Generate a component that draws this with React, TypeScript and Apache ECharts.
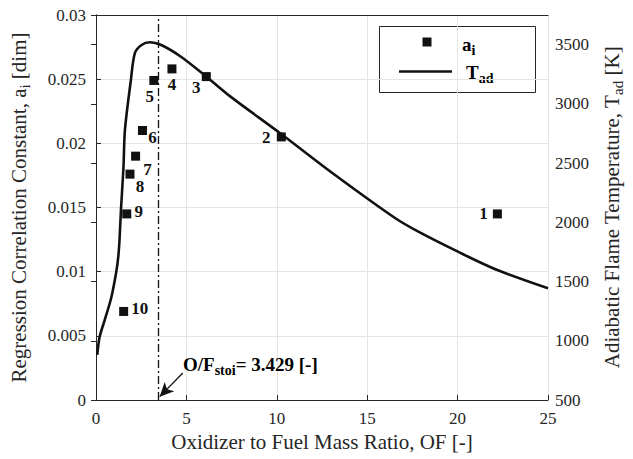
import React, { useEffect, useRef } from 'react';
import * as echarts from 'echarts';

// Regression constant a_i for each case, against O/F ratio
const ofRatio = [22.2, 10.25, 6.1, 4.2, 3.2, 2.57, 2.19, 1.88, 1.7, 1.53];
const regressionA = [0.0145, 0.0205, 0.0252, 0.0258, 0.0249, 0.021, 0.019, 0.0176, 0.0145, 0.0069];
const pointNames = ['1', '2', '3', '4', '5', '6', '7', '8', '9', '10'];

// Adiabatic flame temperature curve
const curveOF = [0.07, 0.2, 0.48, 0.84, 1.11, 1.23, 1.3, 1.38, 1.52, 1.6, 1.93, 2.15, 2.52, 2.97, 3.61, 4.7, 6.11, 7.44, 10.17, 13.09, 16.56, 17.83, 20.02, 22.2, 25];
const curveTad = [880, 1032, 1175, 1361, 1572, 1707, 1851, 2104, 2467, 2779, 3201, 3429, 3497, 3520, 3497, 3398, 3229, 3061, 2754, 2414, 2034, 1921, 1752, 1597, 1443];

// Stoichiometric O/F and the arrow pointing at it (OF, a)
const stoichOF = 3.429;
const arrowFrom = [4.8, 0.0021];
const arrowTo = [3.52, 0.00026];

// Axis settings
const xTicks = { min: 0, max: 25, interval: 5 };
const aTicks = { min: 0, max: 0.03, interval: 0.005 };
const tTicks = { min: 500, max: 3750, interval: 500, lastLabel: 3500 };

// Label offsets of the numbered points, in pixels
const labelOffsets: [number, number][] = [
  [-14, 0], [-15, 1], [-10, 11], [0, 16], [-4, 16],
  [10, 7], [12, 13], [10, 12], [12, -2], [16, -3],
];

const FONT = "'Liberation Serif', 'Times New Roman', serif";
const INK = '#262626';
const MARK = '#111111';

export default function App() {
  const ref = useRef<HTMLDivElement>(null);

  useEffect(() => {
    document.body.style.margin = '0';
    if (!ref.current) return;
    const chart = echarts.init(ref.current, undefined, { renderer: 'svg' });

    const scatterData = ofRatio.map((x, i) => ({
      value: [x, regressionA[i]],
      name: pointNames[i],
      label: { offset: labelOffsets[i] },
    }));
    const curveData = curveOF.map((x, i) => [x, curveTad[i]]);

    const axisCommon = {
      axisLine: { show: true, lineStyle: { color: INK, width: 1 } },
      axisTick: { show: true, inside: true, length: 5, lineStyle: { color: INK } },
      axisLabel: { color: INK, fontFamily: FONT, fontSize: 17 },
      nameTextStyle: { color: INK, fontFamily: FONT, fontSize: 21 },
    };

    const subRich = (size: number, weight: string, drop: number, color = INK) => ({
      n: { fontSize: size, fontFamily: FONT, fontWeight: weight, color },
      s: {
        fontSize: Math.round(size * 0.72),
        fontFamily: FONT,
        fontWeight: weight,
        color,
        padding: [drop * 2, 0, 0, 0],
      },
    });

    chart.setOption({
      animation: false,
      backgroundColor: '#ffffff',
      grid: { left: 94, right: 82, top: 15, bottom: 59 },
      xAxis: [
        {
          type: 'value',
          ...xTicks,
          ...axisCommon,
          axisLabel: { ...axisCommon.axisLabel, margin: 10 },
          splitLine: { show: true, lineStyle: { color: '#e4e4e4', width: 1 } },
          name: 'Oxidizer to Fuel Mass Ratio, OF [-]',
          nameLocation: 'middle',
          nameGap: 31,
        },
        {
          type: 'value',
          position: 'top',
          ...xTicks,
          axisLine: { show: true, lineStyle: { color: INK, width: 1 } },
          axisTick: { show: false },
          axisLabel: { show: false },
          splitLine: { show: false },
        },
      ],
      yAxis: [
        {
          type: 'value',
          position: 'left',
          min: aTicks.min,
          max: aTicks.max,
          interval: aTicks.interval,
          ...axisCommon,
          axisLabel: { ...axisCommon.axisLabel, margin: 10 },
          splitLine: { show: true, lineStyle: { color: '#e4e4e4', width: 1 } },
          name: '{n|Regression Correlation Constant, a}{s|i}{n| [dim]}',
          nameLocation: 'middle',
          nameRotate: 90,
          nameGap: 64,
          nameTextStyle: { ...axisCommon.nameTextStyle, rich: subRich(21, 'normal', 6) },
        },
        {
          type: 'value',
          position: 'right',
          min: tTicks.min,
          max: tTicks.max,
          interval: tTicks.interval,
          ...axisCommon,
          axisLabel: {
            ...axisCommon.axisLabel,
            margin: 7,
            formatter: (v: number) => (v > tTicks.lastLabel ? '' : String(v)),
          },
          splitLine: { show: false },
          name: '{n|Adiabatic Flame Temperature, T}{s|ad}{n| [K]}',
          nameLocation: 'middle',
          nameRotate: 90,
          nameGap: 50,
          nameTextStyle: { ...axisCommon.nameTextStyle, rich: subRich(21, 'normal', 6) },
        },
      ],
      series: [
        {
          name: 'T_ad',
          type: 'line',
          xAxisIndex: 0,
          yAxisIndex: 1,
          data: curveData,
          showSymbol: false,
          smooth: 0.3,
          lineStyle: { color: MARK, width: 2.6 },
          z: 3,
        },
        {
          name: 'a_i',
          type: 'scatter',
          xAxisIndex: 0,
          yAxisIndex: 0,
          data: scatterData,
          symbol: 'rect',
          symbolSize: 9,
          itemStyle: { color: MARK, opacity: 1 },
          label: {
            show: true,
            position: 'inside',
            formatter: (p: any) => p.name,
            fontFamily: FONT,
            fontWeight: 'bold',
            fontSize: 17,
            color: MARK,
            opacity: 1,
          },
          z: 4,
          markLine: {
            silent: true,
            animation: false,
            symbol: 'none',
            label: { show: false },
            data: [
              {
                xAxis: stoichOF,
                lineStyle: { color: MARK, width: 1.3, type: [8, 3, 2, 3] },
              },
              [
                { coord: arrowFrom, symbol: 'none' },
                { coord: arrowTo, symbol: 'arrow', symbolSize: [10, 14] },
              ],
            ],
            lineStyle: { color: MARK, width: 1.3, type: 'solid', opacity: 1 },
          },
        },
      ],
      graphic: [
        // legend box
        {
          type: 'group',
          z: 100,
          children: [
            {
              type: 'rect',
              shape: { x: 379.5, y: 26.5, width: 156, height: 66 },
              style: { fill: '#ffffff', stroke: INK, lineWidth: 1 },
            },
            {
              type: 'rect',
              shape: { x: 422.5, y: 37.5, width: 9, height: 9 },
              style: { fill: MARK },
            },
            {
              type: 'line',
              shape: { x1: 399, y1: 71.5, x2: 452, y2: 71.5 },
              style: { stroke: MARK, lineWidth: 2.6 },
            },
            {
              type: 'text',
              x: 462,
              y: 44,
              style: {
                text: '{n|a}{s|i}',
                rich: subRich(19, 'bold', 6, MARK),
                verticalAlign: 'middle',
              },
            },
            {
              type: 'text',
              x: 466,
              y: 72,
              style: {
                text: '{n|T}{s|ad}',
                rich: subRich(19, 'bold', 6, MARK),
                verticalAlign: 'middle',
              },
            },
          ],
        },
        // stoichiometric annotation
        {
          type: 'text',
          z: 100,
          x: 183,
          y: 364,
          style: {
            text: `{n|O/F}{s|stoi}{n|= ${stoichOF} [-]}`,
            rich: subRich(19, 'bold', 6, MARK),
            verticalAlign: 'middle',
          },
        },
      ],
    });

    return () => chart.dispose();
  }, []);

  return (
    <div
      ref={ref}
      style={{ position: 'fixed', left: 0, top: 0, width: 633, height: 459, background: '#fff' }}
    />
  );
}
